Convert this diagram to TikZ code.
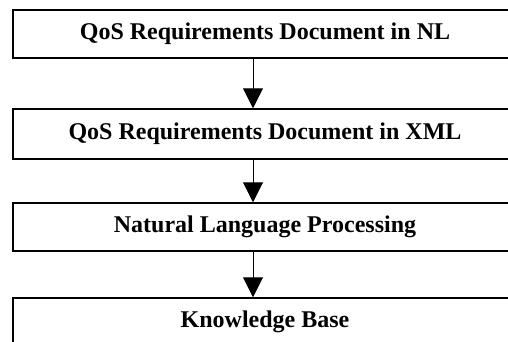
\documentclass[tikz,border=0pt]{standalone}
\usepackage{fontspec}
\setmainfont{Liberation Serif}
\usetikzlibrary{arrows.meta}
\begin{document}
\begin{tikzpicture}[x=1pt,y=-1pt,
  box/.style={draw=black,line width=1.5pt,minimum width=504pt,minimum height=48pt,
    inner sep=0pt,font=\fontsize{24}{28}\selectfont\bfseries,anchor=center},
  arr/.style={draw=black,line width=1pt,-{Triangle[width=20pt,length=20pt]}}]
\useasboundingbox (0,0) rectangle (508,341);
\clip (0,0) rectangle (508,341);
\node[box] (b1) at (265,34) {QoS Requirements Document in NL};
\node[box,minimum height=50pt] (b2) at (265,134) {QoS Requirements Document in XML};
\node[box] (b3) at (265,227) {Natural Language Processing};
\node[box] (b4) at (265,322) {Knowledge Base};
\coordinate (ax) at (253,0);
\draw[arr] (b1.south -| ax) -- (b2.north -| ax);
\draw[arr] (b2.south -| ax) -- (b3.north -| ax);
\draw[arr] (b3.south -| ax) -- (b4.north -| ax);
\end{tikzpicture}
\end{document}
